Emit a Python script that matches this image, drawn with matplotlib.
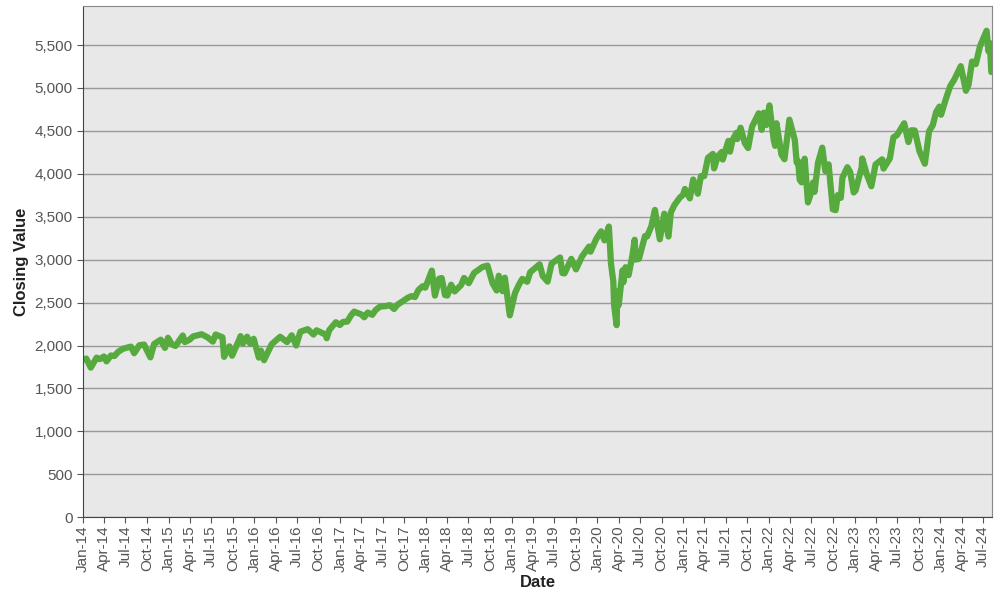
import matplotlib
matplotlib.use("Agg")
import matplotlib.pyplot as plt
import matplotlib.dates as mdates
from matplotlib.ticker import FuncFormatter, MultipleLocator
import pandas as pd

# closing values (roughly twice a month plus turning points)
dates = [
    "2014-01-02", "2014-01-15", "2014-02-03", "2014-02-28", "2014-03-14", "2014-03-31",
    "2014-04-11", "2014-04-30", "2014-05-15", "2014-05-30", "2014-06-20", "2014-07-24",
    "2014-08-07", "2014-08-29", "2014-09-18", "2014-10-15", "2014-10-31", "2014-11-28",
    "2014-12-16", "2014-12-29",
    "2015-01-15", "2015-01-30", "2015-02-27", "2015-03-02", "2015-03-11", "2015-03-31",
    "2015-04-15", "2015-05-21", "2015-06-15", "2015-07-08", "2015-07-20", "2015-08-18",
    "2015-08-25", "2015-09-17", "2015-09-28", "2015-10-30", "2015-11-03", "2015-11-13",
    "2015-12-01", "2015-12-14", "2015-12-29",
    "2016-01-20", "2016-01-29", "2016-02-11", "2016-02-29", "2016-03-15", "2016-04-20",
    "2016-05-19", "2016-06-08", "2016-06-27", "2016-07-15", "2016-08-15", "2016-09-09",
    "2016-09-22", "2016-10-31", "2016-11-04", "2016-11-15", "2016-12-13", "2016-12-30",
    "2017-01-13", "2017-01-31", "2017-02-15", "2017-03-01", "2017-03-31", "2017-04-13",
    "2017-04-28", "2017-05-17", "2017-05-31", "2017-06-19", "2017-07-14", "2017-07-31",
    "2017-08-18", "2017-08-31", "2017-09-15", "2017-10-16", "2017-10-31", "2017-11-15",
    "2017-11-30", "2017-12-18", "2017-12-29",
    "2018-01-26", "2018-02-08", "2018-02-26", "2018-03-09", "2018-03-23", "2018-04-02",
    "2018-04-18", "2018-05-03", "2018-05-31", "2018-06-12", "2018-07-02", "2018-07-25",
    "2018-08-29", "2018-09-20", "2018-10-11", "2018-10-29", "2018-11-07", "2018-11-23",
    "2018-12-03", "2018-12-24",
    "2019-01-15", "2019-01-31", "2019-02-15", "2019-03-08", "2019-03-21", "2019-04-30",
    "2019-05-13", "2019-06-03", "2019-06-20", "2019-07-26", "2019-08-05", "2019-08-14",
    "2019-09-12", "2019-10-02", "2019-10-28", "2019-11-27", "2019-12-03", "2019-12-27",
    "2020-01-17", "2020-01-31", "2020-02-19", "2020-02-28", "2020-03-09", "2020-03-12",
    "2020-03-16", "2020-03-23", "2020-03-26", "2020-04-01", "2020-04-17", "2020-04-21",
    "2020-04-30", "2020-05-13", "2020-05-29", "2020-06-08", "2020-06-11", "2020-06-26",
    "2020-07-22", "2020-07-31", "2020-08-18", "2020-09-02", "2020-09-23", "2020-10-12",
    "2020-10-30", "2020-11-09", "2020-11-24", "2020-12-17", "2020-12-31",
    "2021-01-08", "2021-01-29", "2021-02-12", "2021-03-04", "2021-03-17", "2021-03-31",
    "2021-04-16", "2021-05-07", "2021-05-12", "2021-05-28", "2021-06-14", "2021-06-18",
    "2021-07-12", "2021-07-19", "2021-07-30", "2021-08-16", "2021-08-19", "2021-09-02",
    "2021-09-20", "2021-10-04", "2021-10-21", "2021-11-18", "2021-12-01", "2021-12-10",
    "2021-12-20",
    "2022-01-03", "2022-01-21", "2022-01-27", "2022-02-02", "2022-02-23", "2022-03-08",
    "2022-03-29", "2022-04-21", "2022-04-29", "2022-05-05", "2022-05-12", "2022-05-20",
    "2022-06-02", "2022-06-16", "2022-06-30", "2022-07-08", "2022-07-14", "2022-07-29",
    "2022-08-16", "2022-08-29", "2022-09-12", "2022-09-30", "2022-10-12", "2022-10-21",
    "2022-11-03", "2022-11-10", "2022-12-01", "2022-12-13", "2022-12-28",
    "2023-01-05", "2023-01-31", "2023-02-02", "2023-02-22", "2023-03-13", "2023-03-31",
    "2023-04-28", "2023-05-04", "2023-05-31", "2023-06-15", "2023-06-30", "2023-07-31",
    "2023-08-18", "2023-08-31", "2023-09-14", "2023-10-04", "2023-10-27", "2023-11-14",
    "2023-11-30", "2023-12-14", "2023-12-28",
    "2024-01-04", "2024-01-24", "2024-02-12", "2024-02-29", "2024-03-28", "2024-04-19",
    "2024-04-30", "2024-05-15", "2024-05-31", "2024-06-18", "2024-07-16", "2024-07-24",
    "2024-07-31", "2024-08-02", "2024-08-05", "2024-08-07",
]
closing = [
    1831, 1848, 1742, 1859, 1841, 1872,
    1815, 1884, 1878, 1924, 1962, 1987,
    1910, 2003, 2011, 1862, 2018, 2068,
    1972, 2090,
    2011, 1995, 2104, 2117, 2040, 2068,
    2106, 2131, 2096, 2046, 2128, 2096,
    1868, 1990, 1881, 2079, 2109, 2023,
    2103, 2021, 2078,
    1859, 1940, 1829, 1932, 2016, 2102,
    2040, 2119, 2000, 2161, 2190, 2128,
    2177, 2126, 2085, 2180, 2271, 2239,
    2275, 2279, 2349, 2395, 2363, 2329,
    2384, 2357, 2412, 2453, 2459, 2470,
    2425, 2472, 2500, 2557, 2575, 2564,
    2648, 2690, 2674,
    2873, 2581, 2779, 2786, 2588, 2582,
    2708, 2630, 2705, 2787, 2726, 2846,
    2914, 2931, 2728, 2641, 2813, 2633,
    2790, 2351,
    2610, 2704, 2776, 2743, 2854, 2946,
    2811, 2744, 2954, 3026, 2844, 2840,
    3009, 2887, 3039, 3153, 3093, 3240,
    3330, 3225, 3386, 2954, 2747, 2480,
    2386, 2237, 2630, 2470, 2875, 2737,
    2912, 2820, 3044, 3232, 3002, 3009,
    3276, 3271, 3390, 3580, 3237, 3535,
    3270, 3550, 3635, 3722, 3756,
    3824, 3714, 3934, 3768, 3974, 3973,
    4185, 4232, 4063, 4204, 4255, 4166,
    4384, 4258, 4395, 4479, 4405, 4537,
    4358, 4300, 4550, 4705, 4513, 4712,
    4568,
    4797, 4398, 4326, 4589, 4225, 4170,
    4631, 4394, 4132, 4147, 3930, 3901,
    4176, 3667, 3785, 3899, 3790, 4130,
    4305, 4031, 4110, 3586, 3577, 3752,
    3720, 3956, 4077, 4019, 3783,
    3808, 4077, 4179, 3991, 3855, 4109,
    4169, 4061, 4180, 4426, 4450, 4589,
    4370, 4508, 4505, 4263, 4117, 4496,
    4568, 4719, 4783,
    4688, 4868, 5022, 5096, 5254, 4967,
    5036, 5308, 5278, 5487, 5667, 5427,
    5522, 5346, 5186, 5199,
]

x = pd.to_datetime(dates)

plt.rcParams['font.family'] = ['Liberation Sans', 'DejaVu Sans']

fig = plt.figure(figsize=(10, 6), dpi=100)
ax = fig.add_axes([0.083, 0.138, 0.909, 0.852])
ax.set_facecolor("#e8e8e8")

ax.plot(x, closing, color="#56aa3e", linewidth=4.5,
        solid_joinstyle="round", solid_capstyle="butt")

ax.set_ylim(0, 5955)
ax.set_xlim(pd.Timestamp("2014-01-01"), pd.Timestamp("2024-08-08"))
ax.yaxis.set_major_locator(MultipleLocator(500))
ax.yaxis.set_major_formatter(FuncFormatter(lambda v, p: f"{int(v):,}"))
ax.xaxis.set_major_locator(mdates.MonthLocator(bymonth=[1, 4, 7, 10]))
ax.xaxis.set_major_formatter(mdates.DateFormatter("%b-%y"))

ax.grid(axis="y", color="#9a9a9a", linewidth=1)
ax.set_axisbelow(True)
ax.tick_params(axis="x", rotation=90, labelsize=11, colors="#555555", length=4, pad=2)
ax.tick_params(axis="y", labelsize=11, colors="#555555", length=4)
ax.tick_params(axis="both", color="#555555")

for side in ["left", "bottom"]:
    ax.spines[side].set_color("#444444")
for side in ["top", "right"]:
    ax.spines[side].set_color("#888888")

ax.set_xlabel("Date", fontsize=12, fontweight="bold", color="#222222", labelpad=2)
ax.set_ylabel("Closing Value", fontsize=12, fontweight="bold", color="#222222", labelpad=4)

fig.savefig("out.png")
